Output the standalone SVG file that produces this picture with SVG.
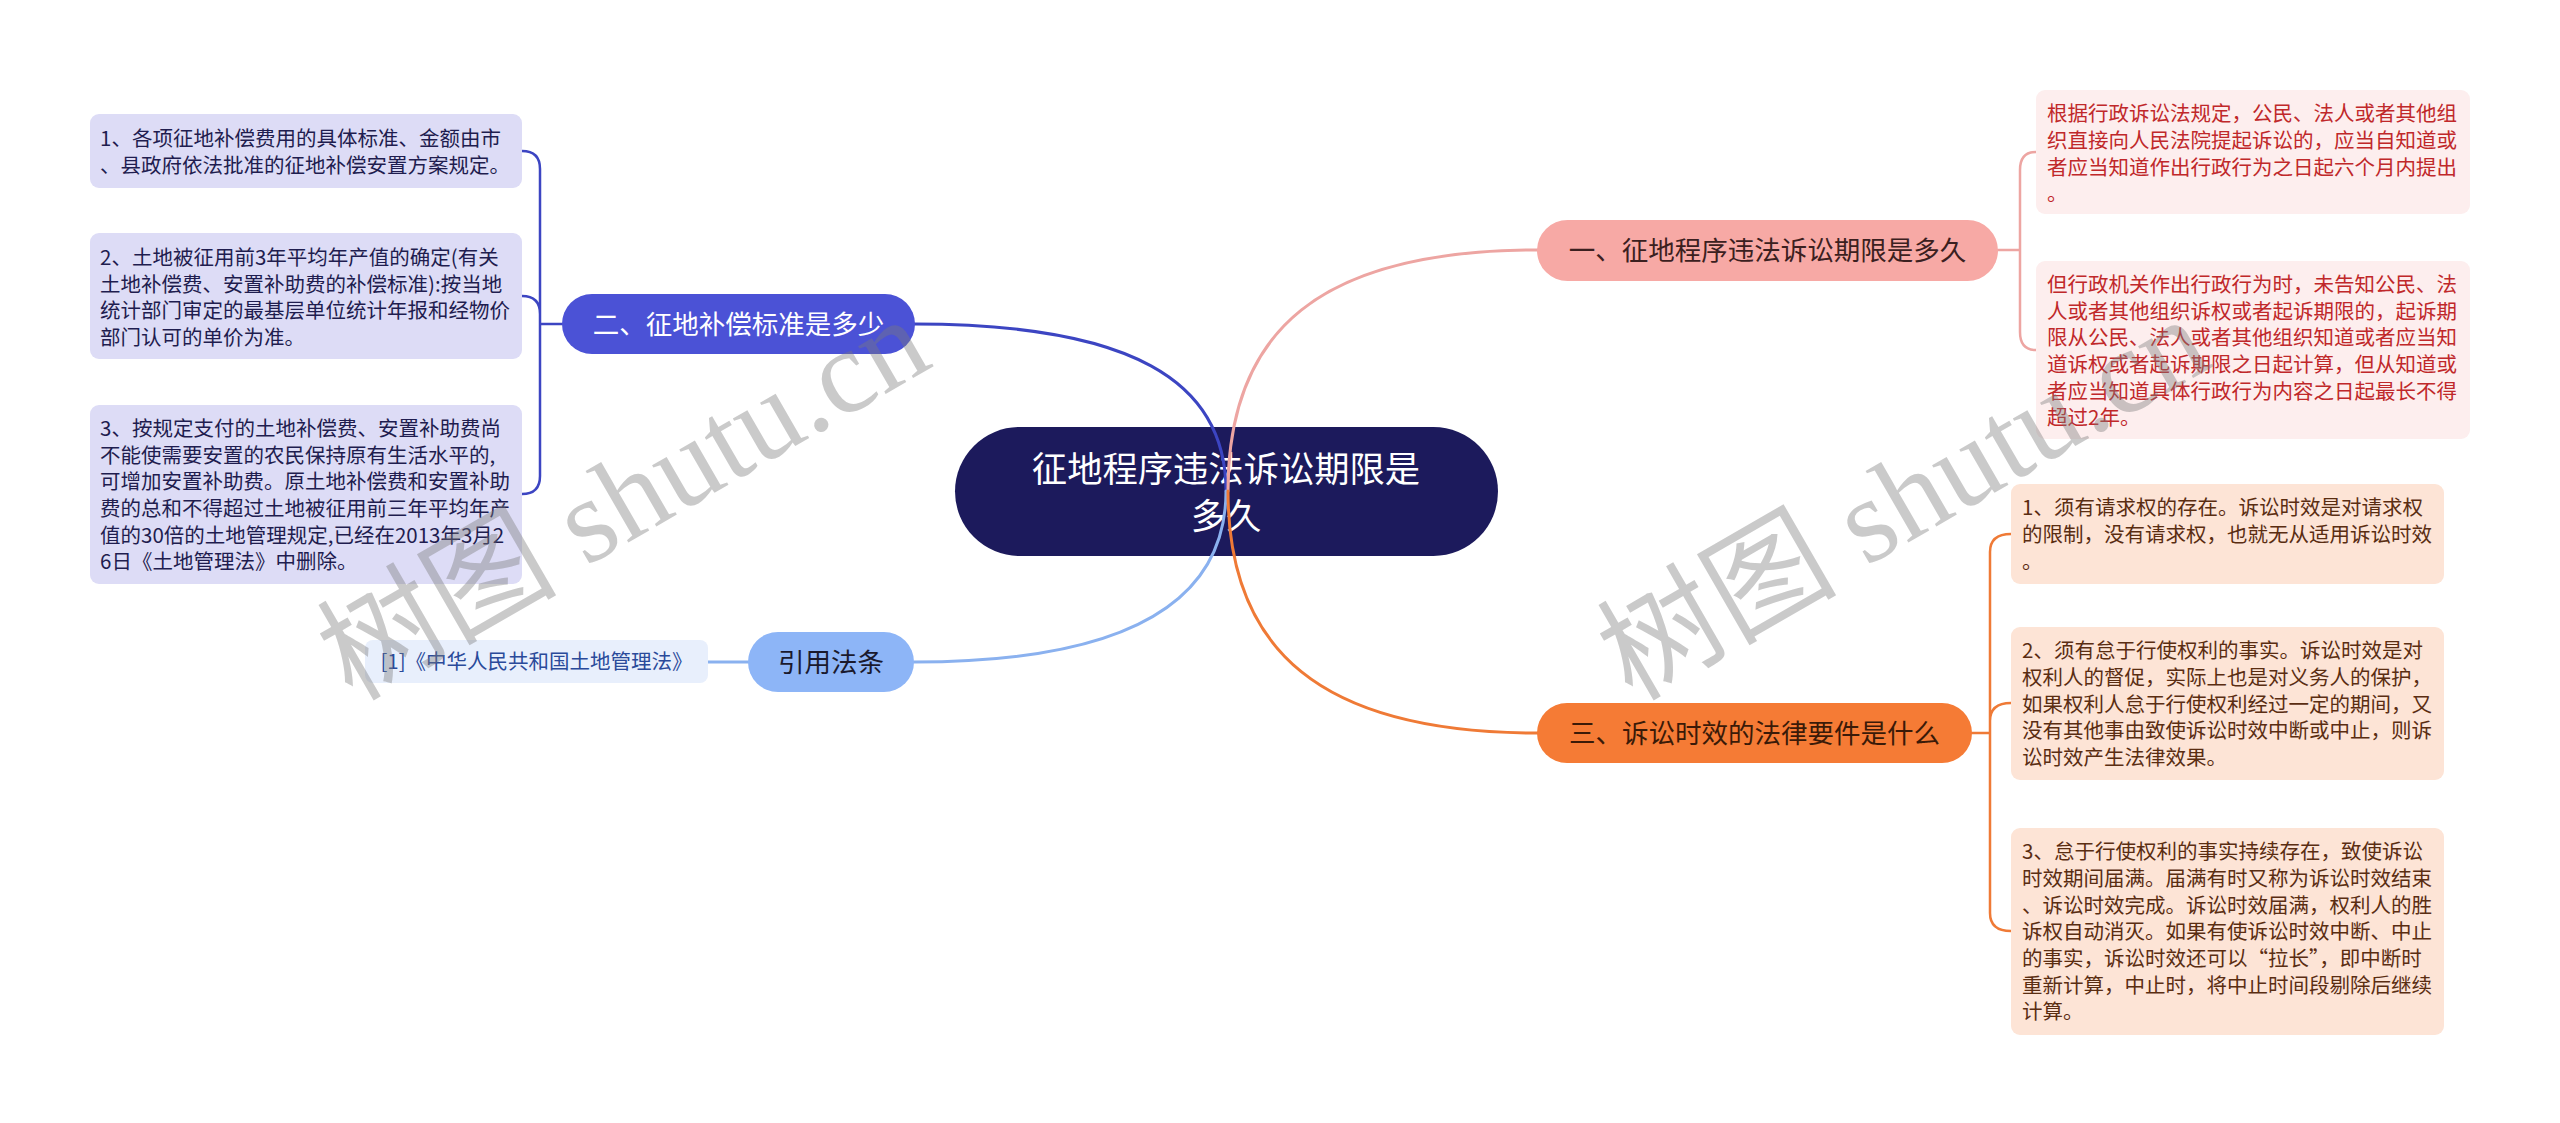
<svg xmlns="http://www.w3.org/2000/svg" width="2560" height="1123" viewBox="0 0 2560 1123">
<style>
text{font-family:"Noto Sans CJK SC","Noto Sans",sans-serif;}
.box{font-size:20.5px;}
.main{font-size:26.5px;}
.c{stroke-width:3;fill:none;stroke-linecap:round;}
.b{stroke-width:2.5;fill:none;stroke-linecap:round;}
.wm{font-family:"Liberation Serif","Noto Sans CJK SC",serif;font-size:120px;fill:#7a7a7a;fill-opacity:0.4;}
</style>
<rect width="2560" height="1123" fill="#ffffff"/>
<g id="center">
<rect x="955" y="427" width="543" height="129" rx="64.5" fill="#1c1a5c"/>
<text x="1226" y="482" font-size="35.3" fill="#ffffff" text-anchor="middle">征地程序违法诉讼期限是</text>
<text x="1226" y="529" font-size="35.3" fill="#ffffff" text-anchor="middle">多久</text>
</g>
<g id="connectors">
<path class="c" stroke="#3c45c2" d="M914,324 C1130,324 1226,380 1226,491"/>
<path class="c" stroke="#eda5a2" d="M1538,250 C1320,250 1228,330 1228,491"/>
<path class="c" stroke="#8ab1ef" d="M914,662 C1130,662 1226,600 1226,491"/>
<path class="c" stroke="#ef7a36" d="M1538,733 C1320,733 1228,650 1228,491"/>
<path class="b" stroke="#3c45c2" d="M562,324 L540,324 M540,324 L540,169 Q540,151 522,151 M540,324 L540,314 Q540,296 522,296 M540,324 L540,476 Q540,494 522,494"/>
<path class="c" stroke="#8ab1ef" d="M748,662 L708,662"/>
<path class="b" stroke="#eda5a2" d="M1998,250 L2020,250 M2020,250 L2020,170 Q2020,152 2036,152 M2020,250 L2020,332 Q2020,350 2036,350"/>
<path class="b" stroke="#ef7a36" d="M1972,733 L1990,733 M1990,733 L1990,552 Q1990,534 2011,534 M1990,733 L1990,721 Q1990,703 2011,703 M1990,733 L1990,913 Q1990,931 2011,931"/>
</g>
<g id="n-yi">
<rect x="1537" y="220" width="461" height="61" rx="30.5" fill="#f7a9a5"/>
<text class="main" x="1767.5" y="260" fill="#3b2020" text-anchor="middle">一、征地程序违法诉讼期限是多久</text>
</g>
<g id="n-er">
<rect x="562" y="294" width="353" height="60" rx="30" fill="#4b52d6"/>
<text class="main" x="738.5" y="334" fill="#ffffff" text-anchor="middle">二、征地补偿标准是多少</text>
</g>
<g id="n-ref">
<rect x="748" y="632" width="166" height="60" rx="30" fill="#8db5f7"/>
<text class="main" x="831" y="672" fill="#1a1a2e" text-anchor="middle">引用法条</text>
</g>
<g id="n-san">
<rect x="1537" y="703" width="435" height="60" rx="30" fill="#f57b35"/>
<text class="main" x="1754.5" y="743" fill="#3a1a08" text-anchor="middle">三、诉讼时效的法律要件是什么</text>
</g>
<g id="ref-law">
<rect x="365" y="640" width="343" height="43" rx="8" fill="#e8effc"/>
<text class="box" x="536.5" y="669" fill="#2a4a9a" text-anchor="middle">[1]《中华人民共和国土地管理法》</text>
</g>
<g id="l1" class="box" fill="#1f1d4f">
<rect x="90" y="114" width="432" height="74" rx="9" fill="#dddcf6"/>
<text x="100" y="146">1、各项征地补偿费用的具体标准、金额由市</text>
<text x="100" y="173">、县政府依法批准的征地补偿安置方案规定。</text>
</g>
<g id="l2" class="box" fill="#1f1d4f">
<rect x="90" y="233" width="432" height="126" rx="9" fill="#dddcf6"/>
<text x="100" y="265">2、土地被征用前3年平均年产值的确定(有关</text>
<text x="100" y="292">土地补偿费、安置补助费的补偿标准):按当地</text>
<text x="100" y="318">统计部门审定的最基层单位统计年报和经物价</text>
<text x="100" y="345">部门认可的单价为准。</text>
</g>
<g id="l3" class="box" fill="#1f1d4f">
<rect x="90" y="405" width="432" height="179" rx="9" fill="#dddcf6"/>
<text x="100" y="436">3、按规定支付的土地补偿费、安置补助费尚</text>
<text x="100" y="463">不能使需要安置的农民保持原有生活水平的,</text>
<text x="100" y="489">可增加安置补助费。原土地补偿费和安置补助</text>
<text x="100" y="516">费的总和不得超过土地被征用前三年平均年产</text>
<text x="100" y="543">值的30倍的土地管理规定,已经在2013年3月2</text>
<text x="100" y="569">6日《土地管理法》中删除。</text>
</g>
<g id="r1a" class="box" fill="#c0282a">
<rect x="2036" y="90" width="434" height="124" rx="9" fill="#fdeeee"/>
<text x="2047" y="121">根据行政诉讼法规定，公民、法人或者其他组</text>
<text x="2047" y="148">织直接向人民法院提起诉讼的，应当自知道或</text>
<text x="2047" y="175">者应当知道作出行政行为之日起六个月内提出</text>
<text x="2047" y="201">。</text>
</g>
<g id="r1b" class="box" fill="#c0282a">
<rect x="2036" y="261" width="434" height="178" rx="9" fill="#fdeeee"/>
<text x="2047" y="292">但行政机关作出行政行为时，未告知公民、法</text>
<text x="2047" y="319">人或者其他组织诉权或者起诉期限的，起诉期</text>
<text x="2047" y="345">限从公民、法人或者其他组织知道或者应当知</text>
<text x="2047" y="372">道诉权或者起诉期限之日起计算，但从知道或</text>
<text x="2047" y="399">者应当知道具体行政行为内容之日起最长不得</text>
<text x="2047" y="425">超过2年。</text>
</g>
<g id="r3a" class="box" fill="#5a2d12">
<rect x="2011" y="484" width="433" height="100" rx="9" fill="#fde4d6"/>
<text x="2022" y="515">1、须有请求权的存在。诉讼时效是对请求权</text>
<text x="2022" y="542">的限制，没有请求权，也就无从适用诉讼时效</text>
<text x="2022" y="569">。</text>
</g>
<g id="r3b" class="box" fill="#5a2d12">
<rect x="2011" y="627" width="433" height="153" rx="9" fill="#fde4d6"/>
<text x="2022" y="658">2、须有怠于行使权利的事实。诉讼时效是对</text>
<text x="2022" y="685">权利人的督促，实际上也是对义务人的保护，</text>
<text x="2022" y="712">如果权利人怠于行使权利经过一定的期间，又</text>
<text x="2022" y="738">没有其他事由致使诉讼时效中断或中止，则诉</text>
<text x="2022" y="765">讼时效产生法律效果。</text>
</g>
<g id="r3c" class="box" fill="#5a2d12">
<rect x="2011" y="828" width="433" height="207" rx="9" fill="#fde4d6"/>
<text x="2022" y="859">3、怠于行使权利的事实持续存在，致使诉讼</text>
<text x="2022" y="886">时效期间届满。届满有时又称为诉讼时效结束</text>
<text x="2022" y="913">、诉讼时效完成。诉讼时效届满，权利人的胜</text>
<text x="2022" y="939">诉权自动消灭。如果有使诉讼时效中断、中止</text>
<text x="2022" y="966">的事实，诉讼时效还可以“拉长”，即中断时</text>
<text x="2022" y="993">重新计算，中止时，将中止时间段剔除后继续</text>
<text x="2022" y="1019">计算。</text>
</g>
<g id="watermark">
<text class="wm" transform="translate(352,702) rotate(-30)">树图 shutu.cn</text>
<text class="wm" transform="translate(1632,702) rotate(-30)">树图 shutu.cn</text>
</g>
</svg>
